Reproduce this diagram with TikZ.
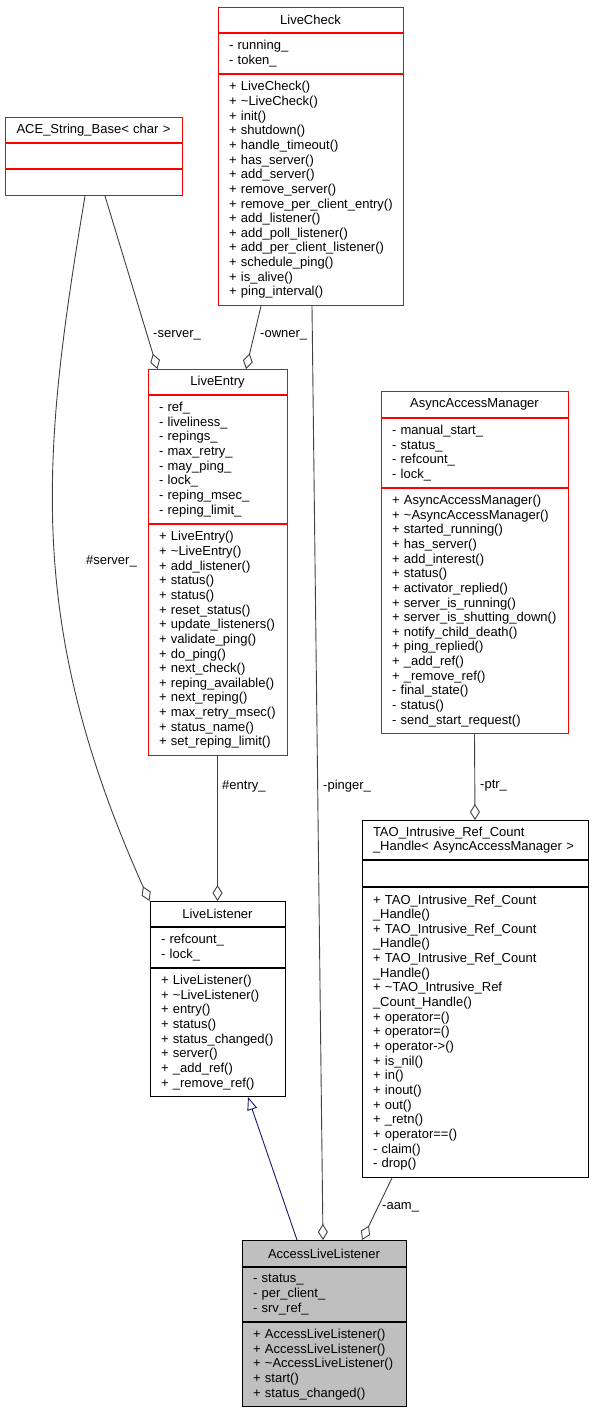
\documentclass[tikz,border=0pt]{standalone}
\usepackage{fontspec}
\setmainfont{Liberation Sans}
\usepackage{tikz}
\usetikzlibrary{positioning, arrows.meta}
\definecolor{edgegray}{HTML}{404040}
\definecolor{navyblue}{HTML}{191970}
\definecolor{boxred}{HTML}{FF0000}
\definecolor{boxgray}{HTML}{BFBFBF}
\hyphenpenalty=10000
\exhyphenpenalty=10000
\tikzstyle{Part}=[rectangle, draw=boxred, line width=1pt, inner xsep=11pt, inner ysep=3pt, anchor=north, align=left]
\tikzstyle{Head}=[Part, align=center]
\tikzstyle{Link}=[draw=edgegray, line width=0.9pt, -{Diamond[open, length=16pt, width=10pt]}]
\tikzstyle{Inherit}=[draw=navyblue, line width=0.9pt, -{Triangle[open, length=13pt, width=10pt]}]
\tikzstyle{Label}=[anchor=west, inner sep=0pt]

\begin{document}
\begin{tikzpicture}[x=1pt, y=-1pt, font=\fontsize{13}{14.65}\selectfont]
    \useasboundingbox (0,0) rectangle (592,1411);

    \path
    (310.5,7) node[Head, text width=163, minimum height=25] (check) {LiveCheck}
    (93.5,117) node[Head, text width=155, minimum height=25] (ace) {ACE\_String\_Base< char >}
    (217.5,369) node[Head, text width=117, minimum height=25] (entry) {LiveEntry}
    (474.5,391) node[Head, text width=165, minimum height=26] (aam) {AsyncAccessManager}
    (475,820) node[Head, draw=black, align=left, text width=204, minimum height=39] (tao) {TAO\_Intrusive\_Ref\_Count\\\_Handle< AsyncAccessManager >}
    (217.5,901) node[Head, draw=black, text width=113, minimum height=25] (listener) {LiveListener}
    (324,1240) node[Head, draw=black, fill=boxgray, text width=142, minimum height=26] (all) {AccessLiveListener};

    \node[Part, text width=163, minimum height=40, below=0pt of check] (check-attr) {- running\_\\- token\_};
    \node[Part, text width=163, minimum height=231, below=0pt of check-attr] (check-op) {+ LiveCheck()\\+ \textasciitilde LiveCheck()\\+ init()\\+ shutdown()\\+ handle\_timeout()\\+ has\_server()\\+ add\_server()\\+ remove\_server()\\+~remove\_per\_client\_entry()\\+ add\_listener()\\+ add\_poll\_listener()\\+ add\_per\_client\_listener()\\+ schedule\_ping()\\+ is\_alive()\\+ ping\_interval()};

    \node[Part, text width=155, minimum height=25, below=0pt of ace] (ace-attr) {};
    \node[Part, text width=155, minimum height=26, below=0pt of ace-attr] (ace-op) {};

    \node[Part, text width=117, minimum height=128, below=0pt of entry] (entry-attr) {- ref\_\\- liveliness\_\\- repings\_\\- max\_retry\_\\- may\_ping\_\\- lock\_\\- reping\_msec\_\\- reping\_limit\_};
    \node[Part, text width=117, minimum height=231, below=0pt of entry-attr] (entry-op) {+ LiveEntry()\\+ \textasciitilde LiveEntry()\\+ add\_listener()\\+ status()\\+ status()\\+ reset\_status()\\+ update\_listeners()\\+ validate\_ping()\\+ do\_ping()\\+ next\_check()\\+ reping\_available()\\+ next\_reping()\\+ max\_retry\_msec()\\+ status\_name()\\+ set\_reping\_limit()};

    \node[Part, text width=165, minimum height=69, below=0pt of aam] (aam-attr) {- manual\_start\_\\- status\_\\- refcount\_\\- lock\_};
    \node[Part, text width=165, minimum height=245, below=0pt of aam-attr] (aam-op) {+ AsyncAccessManager()\\+ \textasciitilde AsyncAccessManager()\\+ started\_running()\\+ has\_server()\\+ add\_interest()\\+ status()\\+ activator\_replied()\\+ server\_is\_running()\\+ server\_is\_shutting\_down()\\+ notify\_child\_death()\\+ ping\_replied()\\+ \_add\_ref()\\+ \_remove\_ref()\\- final\_state()\\- status()\\- send\_start\_request()};

    \node[Part, draw=black, text width=204, minimum height=26, below=0pt of tao] (tao-attr) {};
    \node[Part, draw=black, text width=204, minimum height=290, below=0pt of tao-attr] (tao-op) {+ TAO\_Intrusive\_Ref\_Count\\\_Handle()\\+ TAO\_Intrusive\_Ref\_Count\\\_Handle()\\+ TAO\_Intrusive\_Ref\_Count\\\_Handle()\\+ \textasciitilde TAO\_Intrusive\_Ref\\\_Count\_Handle()\\+ operator=()\\+ operator=()\\+ operator->()\\+ is\_nil()\\+ in()\\+ inout()\\+ out()\\+ \_retn()\\+ operator==()\\- claim()\\- drop()};

    \node[Part, draw=black, text width=113, minimum height=40, below=0pt of listener] (listener-attr) {- refcount\_\\- lock\_};
    \node[Part, draw=black, text width=113, minimum height=128, below=0pt of listener-attr] (listener-op) {+ LiveListener()\\+ \textasciitilde LiveListener()\\+ entry()\\+ status()\\+ status\_changed()\\+ server()\\+ \_add\_ref()\\+ \_remove\_ref()};

    \node[Part, draw=black, fill=boxgray, text width=142, minimum height=54, below=0pt of all] (all-attr) {- status\_\\- per\_client\_\\- srv\_ref\_};
    \node[Part, draw=black, fill=boxgray, text width=142, minimum height=84, below=0pt of all-attr] (all-op) {+ AccessLiveListener()\\+ AccessLiveListener()\\+ \textasciitilde AccessLiveListener()\\+ start()\\+ status\_changed()};

    \draw[Link] ([xshift=11.5pt]ace-op.south) -- ([xshift=10pt]entry.north west);
    \draw[Link] ([xshift=-49.5pt]check-op.south) -- ([xshift=28.5pt]entry.north);
    \draw[Link] ([xshift=-8.5pt]ace-op.south) .. controls (42,454) and (24,621) .. (listener.north west);
    \draw[Link] (entry-op.south) -- (listener.north);
    \draw[Link] ([xshift=1.5pt]check-op.south) -- ([xshift=-1pt]all.north);
    \draw[Link] (aam-op.south) -- (tao.north);
    \draw[Link] ([xshift=-83pt]tao-op.south) -- ([xshift=38pt]all.north);
    \draw[Inherit] ([xshift=-27pt]all.north) -- ([xshift=30.5pt]listener-op.south);

    \path
    (153,335) node[Label] (lbl-server) {-server\_}
    (260,335) node[Label] (lbl-owner) {-owner\_}
    (86,561) node[Label] (lbl-hserver) {\#server\_}
    (222,786) node[Label] (lbl-entry) {\#entry\_}
    (323,786) node[Label] (lbl-pinger) {-pinger\_}
    (480,786) node[Label] (lbl-ptr) {-ptr\_}
    (382,1207) node[Label] (lbl-aam) {-aam\_};
\end{tikzpicture}
\end{document}
